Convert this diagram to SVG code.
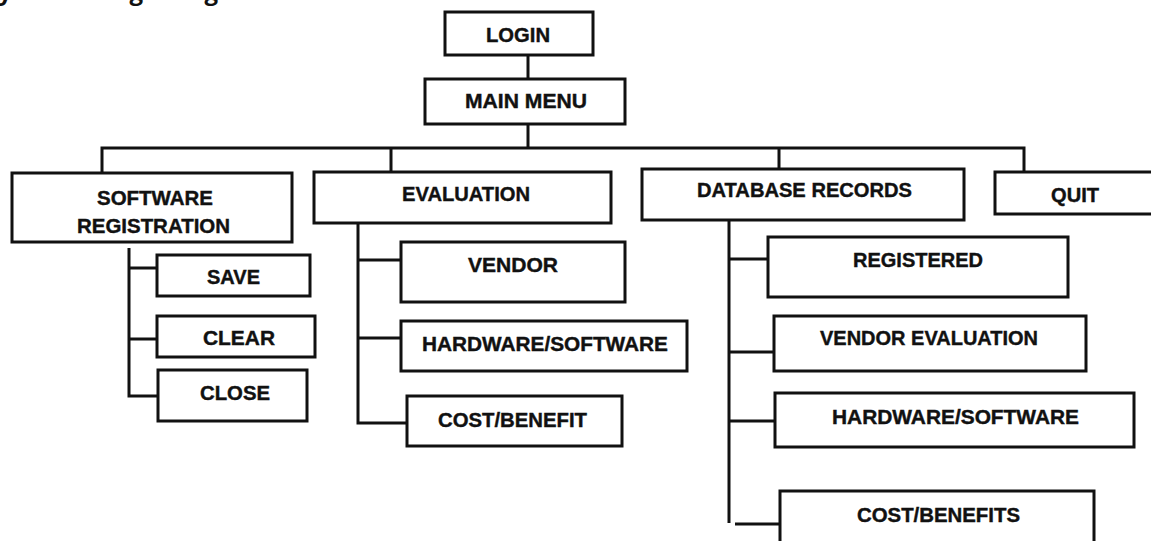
<svg xmlns="http://www.w3.org/2000/svg" width="1151" height="541" viewBox="0 0 1151 541">
  <style>
    .box { fill: #ffffff; stroke: #111111; stroke-width: 3; }
    .lbl { font-family: "Liberation Sans", Arial, sans-serif; font-weight: bold; font-size: 20px; fill: #111111; stroke: #111111; stroke-width: 0.4; }
    .wire { fill: none; stroke: #111111; stroke-width: 3; }
    .title { font-family: "Open Sans", "Liberation Sans", sans-serif; font-weight: 700; font-size: 24px; fill: #111111; }
  </style>
  <rect width="1151" height="541" fill="#ffffff"/>

  <!-- page heading, clipped by the top edge -->
  <text class="title" x="-15" y="0">System Design Diagram</text>

  <!-- tree connectors -->
  <g id="connectors" class="wire">
    <path d="M528 55 V79"/>
    <path d="M528 124 V148"/>
    <path d="M102 173 V148 H1024 V172"/>
    <path d="M391 148 V172"/>
    <path d="M779 148 V169"/>
    <!-- software registration branches -->
    <path d="M129 248 V396 H158"/>
    <path d="M129 268 H157"/>
    <path d="M129 339 H157"/>
    <!-- evaluation branches -->
    <path d="M358 223 V423 H407"/>
    <path d="M358 260 H401"/>
    <path d="M358 338 H401"/>
    <!-- database records branches -->
    <path d="M729 220 V523"/>
    <path d="M729 259 H768"/>
    <path d="M729 352 H774"/>
    <path d="M729 421 H775"/>
    <path d="M735 524 H780"/>
  </g>

  <g id="login">
    <rect class="box" x="445" y="12" width="148" height="43"/>
    <text class="lbl" x="486" y="41.5" textLength="64" lengthAdjust="spacingAndGlyphs">LOGIN</text>
  </g>
  <g id="main-menu">
    <rect class="box" x="425" y="79" width="200" height="45"/>
    <text class="lbl" x="465" y="108" textLength="122" lengthAdjust="spacingAndGlyphs">MAIN MENU</text>
  </g>

  <g id="software-registration">
    <rect class="box" x="12" y="173" width="280" height="69"/>
    <text class="lbl" x="97" y="205" textLength="116" lengthAdjust="spacingAndGlyphs">SOFTWARE</text>
    <text class="lbl" x="77" y="232.5" textLength="153" lengthAdjust="spacingAndGlyphs">REGISTRATION</text>
  </g>
  <g id="save">
    <rect class="box" x="157" y="255" width="153" height="41"/>
    <text class="lbl" x="207" y="284" textLength="53" lengthAdjust="spacingAndGlyphs">SAVE</text>
  </g>
  <g id="clear">
    <rect class="box" x="157" y="316" width="158" height="41"/>
    <text class="lbl" x="203" y="345" textLength="72" lengthAdjust="spacingAndGlyphs">CLEAR</text>
  </g>
  <g id="close">
    <rect class="box" x="158" y="370" width="149" height="51"/>
    <text class="lbl" x="200" y="400" textLength="70" lengthAdjust="spacingAndGlyphs">CLOSE</text>
  </g>

  <g id="evaluation">
    <rect class="box" x="314" y="172" width="297" height="51"/>
    <text class="lbl" x="402" y="201" textLength="128" lengthAdjust="spacingAndGlyphs">EVALUATION</text>
  </g>
  <g id="eval-vendor">
    <rect class="box" x="401" y="242" width="224" height="60"/>
    <text class="lbl" x="468" y="271.5" textLength="90" lengthAdjust="spacingAndGlyphs">VENDOR</text>
  </g>
  <g id="eval-hardware-software">
    <rect class="box" x="401" y="321" width="286" height="50"/>
    <text class="lbl" x="422" y="350.5" textLength="246" lengthAdjust="spacingAndGlyphs">HARDWARE/SOFTWARE</text>
  </g>
  <g id="eval-cost-benefit">
    <rect class="box" x="407" y="396" width="215" height="50"/>
    <text class="lbl" x="438" y="426.5" textLength="149" lengthAdjust="spacingAndGlyphs">COST/BENEFIT</text>
  </g>

  <g id="database-records">
    <rect class="box" x="642" y="169" width="322" height="51"/>
    <text class="lbl" x="697" y="196.5" textLength="215" lengthAdjust="spacingAndGlyphs">DATABASE RECORDS</text>
  </g>
  <g id="db-registered">
    <rect class="box" x="768" y="237" width="300" height="60"/>
    <text class="lbl" x="853" y="266.5" textLength="130" lengthAdjust="spacingAndGlyphs">REGISTERED</text>
  </g>
  <g id="db-vendor-evaluation">
    <rect class="box" x="774" y="316" width="312" height="55"/>
    <text class="lbl" x="820" y="345" textLength="218" lengthAdjust="spacingAndGlyphs">VENDOR EVALUATION</text>
  </g>
  <g id="db-hardware-software">
    <rect class="box" x="775" y="393" width="359" height="54"/>
    <text class="lbl" x="832" y="424" textLength="247" lengthAdjust="spacingAndGlyphs">HARDWARE/SOFTWARE</text>
  </g>
  <g id="db-cost-benefits">
    <rect class="box" x="780" y="491" width="314" height="70"/>
    <text class="lbl" x="857" y="521.5" textLength="163" lengthAdjust="spacingAndGlyphs">COST/BENEFITS</text>
  </g>

  <g id="quit">
    <rect class="box" x="995" y="172" width="180" height="42"/>
    <text class="lbl" x="1051" y="201.5" textLength="48" lengthAdjust="spacingAndGlyphs">QUIT</text>
  </g>
</svg>
